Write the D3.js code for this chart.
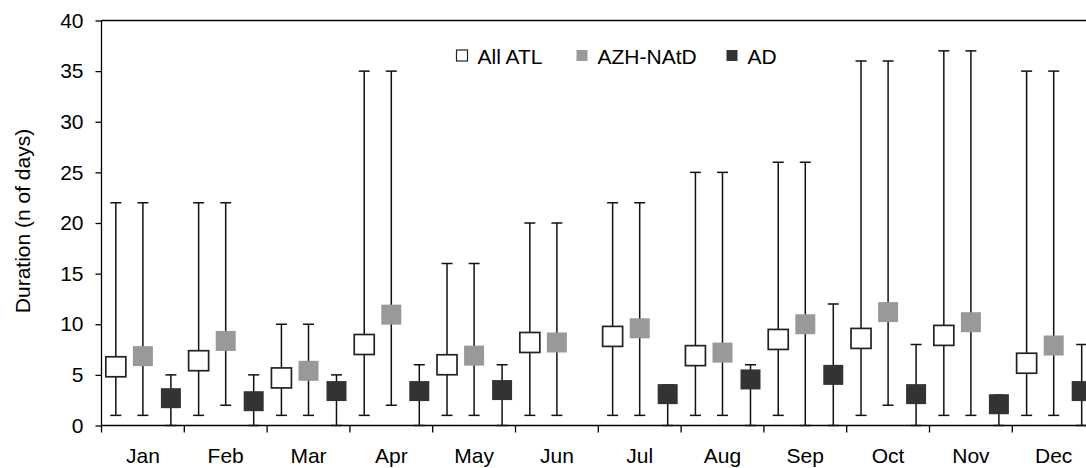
<!DOCTYPE html>
<html><head><meta charset="utf-8">
<script src="https://cdn.jsdelivr.net/npm/d3@7"></script>
<style>
html,body{margin:0;padding:0;background:#fff;overflow:hidden}
text{font-family:"Liberation Sans",Arial,sans-serif;fill:#000}
</style></head>
<body>
<svg id="chart" width="1086" height="468"></svg>
<script>
const months = ["Jan","Feb","Mar","Apr","May","Jun","Jul","Aug","Sep","Oct","Nov","Dec"];
const yTicks = [0,5,10,15,20,25,30,35,40];
const seriesNames = ["All ATL","AZH-NAtD","AD"];

const atlMean = [5.8, 6.4, 4.7, 8.0, 6.0, 8.2, 8.8, 6.9, 8.5, 8.6, 8.9, 6.15];
const atlMin  = [1, 1, 1, 1, 1, 1, 1, 1, 1, 1, 1, 1];
const atlMax  = [22, 22, 10, 35, 16, 20, 22, 25, 26, 36, 37, 35];

const azhMean = [6.85, 8.35, 5.4, 10.95, 6.9, 8.2, 9.6, 7.2, 10.0, 11.2, 10.2, 7.9];
const azhMin  = [1, 2, 1, 2, 1, 1, 1, 1, 0, 2, 1, 1];
const azhMax  = [22, 22, 10, 35, 16, 20, 22, 25, 26, 36, 37, 35];

const adMean = [2.7, 2.4, 3.4, 3.4, 3.5, null, 3.1, 4.55, 5.0, 3.1, 2.1, 3.4];
const adMin  = [0, 0, 0, 0, 0, null, 0, 0, 0, 0, 0, 0];
const adMax  = [5, 5, 5, 6, 6, null, 4, 6, 12, 8, 3, 8];

(function(){
const svg = d3.select("#chart");
const W = 1086;
const FS = "21px";
const pLeft = 101.5, pTop = 20.5, pBottom = 425.5;
const x = d3.scaleBand().domain(months).range([pLeft, pLeft + 12*82.8]).padding(0);
const y = d3.scaleLinear().domain([0,40]).range([pBottom, pTop]);
const bw = x.bandwidth();

const series = [
  {name: seriesNames[0], mean: atlMean, lo: atlMin, hi: atlMax, off: -0.327, fill: "#ffffff", stroke: "#222", sw: 1.7},
  {name: seriesNames[1], mean: azhMean, lo: azhMin, hi: azhMax, off: 0.0, fill: "#999999", stroke: "none", sw: 0},
  {name: seriesNames[2], mean: adMean, lo: adMin, hi: adMax, off: 0.338, fill: "#333333", stroke: "none", sw: 0}
];

svg.append("line").attr("x1", pLeft).attr("x2", W).attr("y1", pTop).attr("y2", pTop)
  .attr("stroke", "#000").attr("stroke-width", 1.3);

const yAxis = d3.axisLeft(y).tickValues(yTicks).tickSize(6).tickPadding(12);
const gy = svg.append("g").attr("transform", `translate(${pLeft},0)`).call(yAxis);
gy.select(".domain").remove();
gy.selectAll(".tick line").attr("stroke", "#000").attr("stroke-width", 1.3);
gy.selectAll(".tick text").style("font-size", FS).style("font-family", "'Liberation Sans',Arial,sans-serif").attr("fill", "#000");
svg.append("line").attr("x1", pLeft).attr("x2", pLeft).attr("y1", pTop).attr("y2", pBottom + 7)
  .attr("stroke", "#000").attr("stroke-width", 1.3);

svg.append("line").attr("x1", pLeft).attr("x2", W).attr("y1", pBottom).attr("y2", pBottom)
  .attr("stroke", "#000").attr("stroke-width", 1.3);
svg.append("g").selectAll("line").data(months.slice(1)).join("line")
  .attr("x1", d => x(d)).attr("x2", d => x(d))
  .attr("y1", pBottom).attr("y2", pBottom + 7)
  .attr("stroke", "#000").attr("stroke-width", 1.3);
svg.append("g").selectAll("text").data(months).join("text")
  .attr("x", d => x(d) + bw/2).attr("y", 462.5)
  .attr("text-anchor", "middle").style("font-size", FS).text(d => d);

svg.append("text").attr("transform", "translate(30,221) rotate(-90)")
  .attr("text-anchor", "middle").style("font-size", FS).text("Duration (n of days)");

const cap = 5.5, ms = 20;
series.forEach(s => {
  const pts = months.map((m, i) => ({m, v: s.mean[i], lo: s.lo[i], hi: s.hi[i]})).filter(p => p.v !== null);
  const cx = p => x(p.m) + bw/2 + s.off*bw;
  const g = svg.append("g");
  g.selectAll("line.v").data(pts).join("line").attr("class","v")
    .attr("x1", cx).attr("x2", cx).attr("y1", p => y(p.lo)).attr("y2", p => y(p.hi))
    .attr("stroke", "#111").attr("stroke-width", 1.5);
  g.selectAll("line.lo").data(pts).join("line").attr("class","lo")
    .attr("x1", p => cx(p) - cap).attr("x2", p => cx(p) + cap)
    .attr("y1", p => y(p.lo)).attr("y2", p => y(p.lo))
    .attr("stroke", "#111").attr("stroke-width", 1.5);
  g.selectAll("line.hi").data(pts).join("line").attr("class","hi")
    .attr("x1", p => cx(p) - cap).attr("x2", p => cx(p) + cap)
    .attr("y1", p => y(p.hi)).attr("y2", p => y(p.hi))
    .attr("stroke", "#111").attr("stroke-width", 1.5);
  g.selectAll("rect").data(pts).join("rect")
    .attr("x", p => cx(p) - ms/2).attr("y", p => y(p.v) - ms/2)
    .attr("width", ms).attr("height", ms)
    .attr("fill", s.fill).attr("stroke", s.stroke).attr("stroke-width", s.sw);
});

const legX = [456.5, 576.5, 726.5];
const lg = svg.append("g");
series.forEach((s, i) => {
  lg.append("rect").attr("x", legX[i]).attr("y", 50).attr("width", 11).attr("height", 11)
    .attr("fill", s.fill).attr("stroke", s.stroke === "none" ? "none" : "#222").attr("stroke-width", 1.2);
  lg.append("text").attr("x", legX[i] + 21).attr("y", 63.5).style("font-size", FS).text(s.name);
});
})();
</script>
</body></html>
